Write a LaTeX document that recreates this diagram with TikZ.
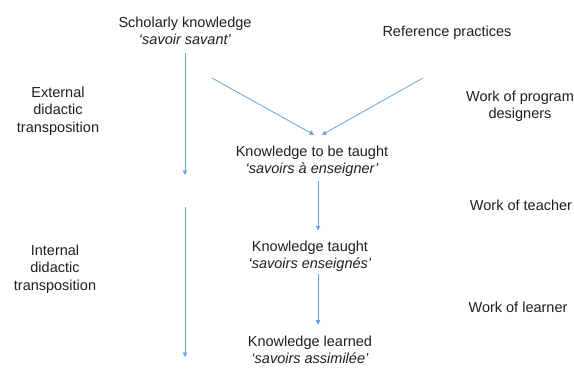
\documentclass[tikz,border=0pt]{standalone}
\usepackage{fontspec}
\setmainfont{Liberation Sans}
\usetikzlibrary{arrows.meta}
\definecolor{flowblue}{RGB}{104,162,214}
\tikzstyle{txt}=[align=center, inner sep=0pt, text=black!88, font=\fontsize{14.5}{17.5}\selectfont]
\tikzstyle{flow}=[draw=flowblue, line width=0.8pt, -{Triangle[width=4.5pt,length=4.5pt]}]

\begin{document}
\begin{tikzpicture}[x=1pt,y=-1pt]
            \useasboundingbox (0,0) rectangle (574,368);
            \node [txt] (scholarly) at (185,31) {Scholarly knowledge\\\textit{`savoir savant'}};
            \node [txt] (reference) at (447,33) {Reference practices};
            \node [txt] (external) at (58,111) {External\\didactic\\transposition};
            \node [txt] (designers) at (520,106) {Work of program\\designers};
            \node [txt] (tobe) at (312,161) {Knowledge to be taught\\\textit{`savoirs à enseigner'}};
            \node [txt] (teacher) at (521,205) {Work of teacher};
            \node [txt] (internal) at (55,269) {Internal\\didactic\\transposition};
            \node [txt] (taught) at (310,256) {Knowledge taught\\\textit{`savoirs enseignés'}};
            \node [txt] (learner) at (518,307) {Work of learner};
            \node [txt] (learned) at (310,350) {Knowledge learned\\\textit{`savoirs assimilée'}};
            \coordinate (extend) at (185,175);
            \coordinate (intstart) at (185,207);
            \coordinate (intend) at (185,357);
            \coordinate (skstart) at (212,78);
            \coordinate (rpstart) at (423,78);
            \draw[flow, shorten <=8pt] (scholarly) -- (extend);
            \draw[flow] (intstart) -- (intend);
            \draw[flow] (skstart) -- ([xshift=2pt,yshift=10.5pt]tobe.north);
            \draw[flow] (rpstart) -- ([xshift=10pt,yshift=10.5pt]tobe.north);
            \draw[flow, shorten <=4pt, shorten >=10pt] ([xshift=6pt]tobe.south) -- ([xshift=8pt]taught.north);
            \draw[flow, shorten <=2pt, shorten >=11pt] ([xshift=8pt]taught.south) -- ([xshift=8pt]learned.north);
        \end{tikzpicture}
\end{document}
